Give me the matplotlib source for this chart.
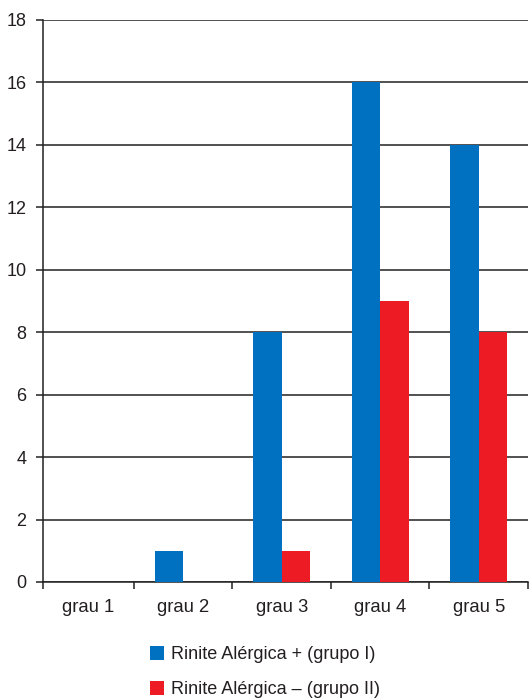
import matplotlib
matplotlib.use("Agg")
import matplotlib.pyplot as plt
from matplotlib.patches import Patch
import numpy as np

categories = ["grau 1", "grau 2", "grau 3", "grau 4", "grau 5"]
grupo_i = [0, 1, 8, 16, 14]
grupo_ii = [0, 0, 1, 9, 8]
series_labels = ["Rinite Alérgica + (grupo I)", "Rinite Alérgica – (grupo II)"]
yticks = [0, 2, 4, 6, 8, 10, 12, 14, 16, 18]

blue = "#0070c0"
red = "#ed1c24"
text_color = "#231f20"
line_color = "#222222"

plt.rcParams["font.family"] = ["Liberation Sans", "DejaVu Sans"]

fig = plt.figure(figsize=(5.29, 6.98), dpi=100)
ax = fig.add_axes([43 / 529, (698 - 582) / 698, 485 / 529, (582 - 20) / 698])

x = np.arange(1, len(categories) + 1)
w = 0.29
ax.bar(x - w / 2, grupo_i, width=w, color=blue, zorder=3)
ax.bar(x + w / 2, grupo_ii, width=w, color=red, zorder=3)

# the first category cell is cut short by the value axis
xmin, xmax = 0.577, len(categories) + 0.5
ax.set_xlim(xmin, xmax)
ax.set_ylim(0, 18)
ax.set_yticks(yticks)
ax.yaxis.grid(True, color=line_color, linewidth=1.1, zorder=1)
ax.set_axisbelow(True)

# category labels sit in the middle of each visible cell
label_pos = x.astype(float).copy()
label_pos[0] = (xmin + 1.5) / 2
ax.set_xticks(label_pos)
ax.set_xticklabels(categories)
ax.set_xticks([xmin] + list(np.arange(1.5, len(categories) + 1, 1.0)), minor=True)
ax.tick_params(axis="x", which="major", length=0, pad=12, labelsize=13.3, labelcolor=text_color)
ax.tick_params(axis="x", which="minor", length=5, width=1.1, color=line_color, direction="out")
ax.tick_params(axis="y", length=5, width=1.1, color=line_color, pad=7, labelsize=13, labelcolor=text_color)

for side in ["top", "right"]:
    ax.spines[side].set_visible(False)
for side in ["left", "bottom"]:
    ax.spines[side].set_color(line_color)
    ax.spines[side].set_linewidth(1.1)

handles = [Patch(facecolor=blue, edgecolor="none"), Patch(facecolor=red, edgecolor="none")]
fig.legend(handles, series_labels, loc="upper left", bbox_to_anchor=(134 / 529, 1 - 630 / 698),
           frameon=False, fontsize=13, handlelength=0.78, handleheight=0.78,
           handletextpad=0.39, labelspacing=0.98, labelcolor=text_color)

fig.savefig("out.png", dpi=100)
